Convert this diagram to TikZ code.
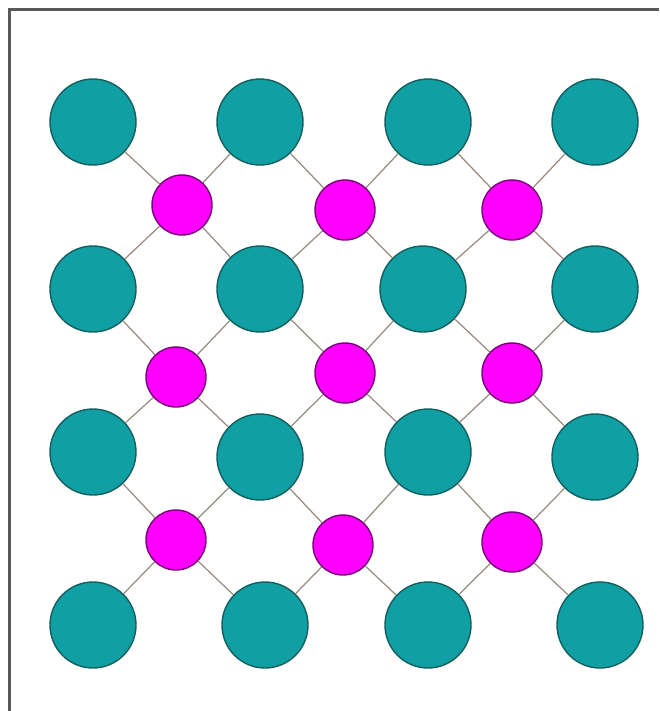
\documentclass[tikz,border=0pt]{standalone}
\usepackage{xcolor}
\usepackage{tikz}
\definecolor{tealfill}{RGB}{16,160,164}
\definecolor{tealline}{RGB}{20,95,95}
\definecolor{magfill}{RGB}{255,0,255}
\definecolor{magline}{RGB}{120,0,120}
\definecolor{bondcol}{RGB}{150,140,128}
\tikzset{
	big/.style={draw=tealline, circle, fill=tealfill, thick, inner sep=0pt, minimum size=17.2mm},
	small/.style={draw=magline, circle, fill=magfill, thick, inner sep=0pt, minimum size=12mm},
	bond/.style={draw=bondcol, line width=0.7pt},
	frm/.style={draw=gray!70!black, line width=1.5pt},
}
\begin{document}
\begin{tikzpicture}[x=1cm, y=1cm]
				\useasboundingbox (0,0) rectangle (13.18,-14.22);
				\draw[frm] (0.19,-14.22) -- (0.19,-0.19) -- (13.18,-0.19);
				% large circles, 4 x 4
				\node[big] at (1.86,-2.44) (a11) {};
				\node[big] at (5.20,-2.44) (a12) {};
				\node[big] at (8.56,-2.44) (a13) {};
				\node[big] at (11.90,-2.44) (a14) {};
				\node[big] at (1.86,-5.78) (a21) {};
				\node[big] at (5.20,-5.78) (a22) {};
				\node[big] at (8.46,-5.78) (a23) {};
				\node[big] at (11.90,-5.78) (a24) {};
				\node[big] at (1.86,-9.04) (a31) {};
				\node[big] at (5.20,-9.14) (a32) {};
				\node[big] at (8.56,-9.04) (a33) {};
				\node[big] at (11.90,-9.14) (a34) {};
				\node[big] at (1.86,-12.50) (a41) {};
				\node[big] at (5.30,-12.50) (a42) {};
				\node[big] at (8.56,-12.50) (a43) {};
				\node[big] at (12.00,-12.50) (a44) {};
				% small circles, 3 x 3
				\node[small] at (3.64,-4.10) (c11) {};
				\node[small] at (6.90,-4.20) (c12) {};
				\node[small] at (10.24,-4.20) (c13) {};
				\node[small] at (3.52,-7.54) (c21) {};
				\node[small] at (6.90,-7.46) (c22) {};
				\node[small] at (10.24,-7.46) (c23) {};
				\node[small] at (3.52,-10.80) (c31) {};
				\node[small] at (6.86,-10.90) (c32) {};
				\node[small] at (10.24,-10.84) (c33) {};
				% bonds
				\draw[bond] (c11) -- (a11);
				\draw[bond] (c11) -- (a12);
				\draw[bond] (c11) -- (a21);
				\draw[bond] (c11) -- (a22);
				\draw[bond] (c12) -- (a12);
				\draw[bond] (c12) -- (a13);
				\draw[bond] (c12) -- (a22);
				\draw[bond] (c12) -- (a23);
				\draw[bond] (c13) -- (a13);
				\draw[bond] (c13) -- (a14);
				\draw[bond] (c13) -- (a23);
				\draw[bond] (c13) -- (a24);
				\draw[bond] (c21) -- (a21);
				\draw[bond] (c21) -- (a22);
				\draw[bond] (c21) -- (a31);
				\draw[bond] (c21) -- (a32);
				\draw[bond] (c22) -- (a22);
				\draw[bond] (c22) -- (a23);
				\draw[bond] (c22) -- (a32);
				\draw[bond] (c22) -- (a33);
				\draw[bond] (c23) -- (a23);
				\draw[bond] (c23) -- (a24);
				\draw[bond] (c23) -- (a33);
				\draw[bond] (c23) -- (a34);
				\draw[bond] (c31) -- (a31);
				\draw[bond] (c31) -- (a32);
				\draw[bond] (c31) -- (a41);
				\draw[bond] (c31) -- (a42);
				\draw[bond] (c32) -- (a32);
				\draw[bond] (c32) -- (a33);
				\draw[bond] (c32) -- (a42);
				\draw[bond] (c32) -- (a43);
				\draw[bond] (c33) -- (a33);
				\draw[bond] (c33) -- (a34);
				\draw[bond] (c33) -- (a43);
				\draw[bond] (c33) -- (a44);
			\end{tikzpicture}
\end{document}
